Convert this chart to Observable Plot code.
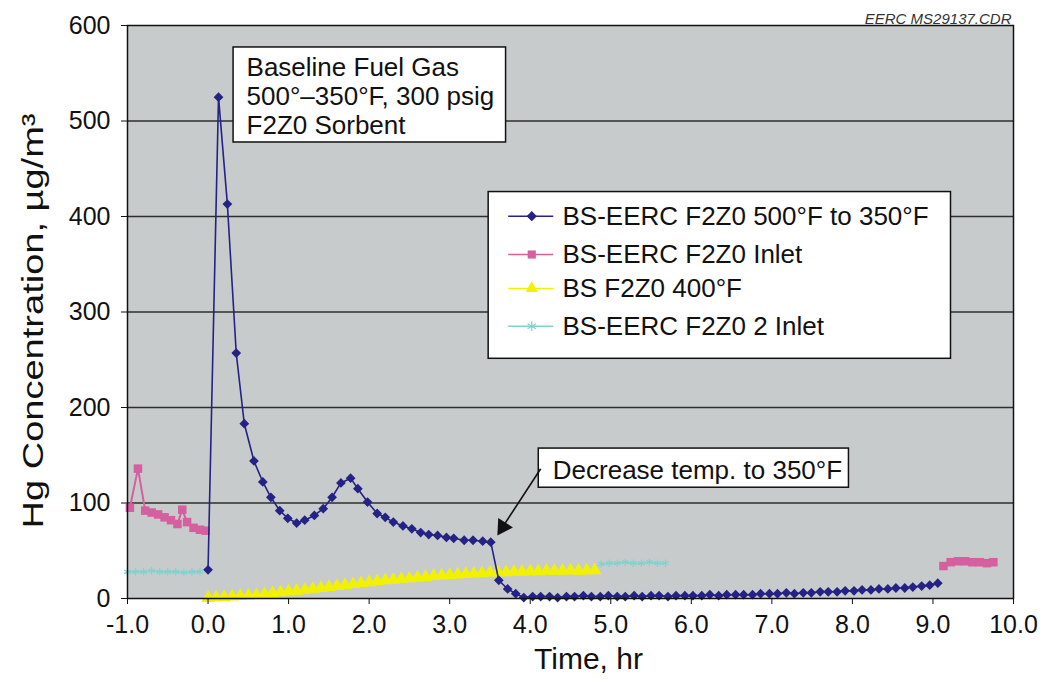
<!DOCTYPE html>
<html>
<head>
<meta charset="utf-8">
<script src="https://cdn.jsdelivr.net/npm/d3@7"></script>
<script src="https://cdn.jsdelivr.net/npm/@observablehq/plot@0.6"></script>
<style>
  body { margin: 0; background: #ffffff; }
  #chart svg { display: block; }
</style>
</head>
<body>
<div id="chart"></div>
<script>
// ---------- Data ----------
// BS-EERC F2Z0 500°F to 350°F
const mainTime = [0.00,0.13,0.24,0.35,0.45,0.57,0.68,0.78,0.89,0.99,1.10,1.20,1.32,1.43,1.54,1.65,1.77,1.86,1.98,2.10,2.20,2.30,2.42,2.53,2.64,2.74,2.85,2.96,3.05,3.18,3.29,3.41,3.51,3.61,3.72,3.82,3.92,4.03,4.13,4.24,4.34,4.45,4.55,4.66,4.76,4.87,4.97,5.08,5.18,5.29,5.39,5.50,5.60,5.71,5.81,5.92,6.02,6.13,6.23,6.34,6.44,6.55,6.65,6.76,6.86,6.97,7.07,7.18,7.28,7.39,7.49,7.60,7.70,7.81,7.91,8.02,8.12,8.23,8.33,8.44,8.54,8.65,8.75,8.86,8.96,9.06];
const mainHg = [30,525,413,257,183,144,122,106,92,84,79,82,87,94,106,121,126,115,101,89,85,80,76,73,69,67,66,64,63,61,61,60,59,19,10,5,1,2,2,2,1,2,2,3,2,2,3,2,2,3,2,3,3,2,3,3,3,3,4,3,4,4,4,4,5,5,5,6,5,6,6,7,7,7,8,8,9,9,10,10,11,11,12,13,14,16];

// BS-EERC F2Z0 Inlet (two segments)
const inletTimeA = [-0.97,-0.87,-0.78,-0.70,-0.62,-0.54,-0.46,-0.38,-0.32,-0.26,-0.18,-0.10,-0.03];
const inletHgA = [95,136,92,90,88,85,82,78,93,80,74,72,71];
const inletTimeB = [9.13,9.22,9.31,9.40,9.49,9.58,9.67,9.75];
const inletHgB = [34,38,39,39,38,38,37,38];

// BS F2Z0 400°F
const bsTime = [0.00,0.10,0.20,0.30,0.40,0.50,0.60,0.70,0.80,0.90,1.00,1.10,1.20,1.30,1.40,1.50,1.60,1.70,1.80,1.90,2.00,2.10,2.20,2.30,2.40,2.50,2.60,2.70,2.80,2.90,3.00,3.10,3.20,3.30,3.40,3.50,3.60,3.70,3.80,3.90,4.00,4.10,4.20,4.30,4.40,4.50,4.60,4.70,4.80];
const bsHg = [0.5,1,1.5,2,2.5,3,3.5,4.5,5.5,6.5,7.5,8,9,10,11,12,13,14,15,16,17,18,19,19.5,20.5,21,22,22.5,23.5,24,24.5,25,25.5,26,26.5,27,27.5,27.5,28,28,28.5,28.5,29,29,29,29.5,29,29.5,29.5];

// BS-EERC F2Z0 2 Inlet (two segments)
const inlet2TimeA = [-1.00,-0.90,-0.80,-0.70,-0.60,-0.50,-0.40,-0.30,-0.20,-0.10];
const inlet2HgA = [28,28,28,29,28,28,28,27,28,28];
const inlet2TimeB = [4.88,4.98,5.08,5.18,5.28,5.38,5.48,5.58,5.68];
const inlet2HgB = [36,37,37,38,37,37,38,37,37];

const seriesNames = ["BS-EERC F2Z0 500°F to 350°F","BS-EERC F2Z0 Inlet","BS F2Z0 400°F","BS-EERC F2Z0 2 Inlet"];
const seriesColors = ["#242285","#d4609f","#f2f200","#7ed3cf"];
const seriesSymbols = ["diamond2","square","triangle","asterisk"];

const xTicks = [-1,0,1,2,3,4,5,6,7,8,9,10];
const yTicks = [0,100,200,300,400,500,600];
const gridY = [100,200,300,400,500];

const yTitle = "Hg Concentration, µg/m³";
const xTitle = "Time, hr";
const fileTag = "EERC MS29137.CDR";

// Annotations (data coordinates)
const boxes = [
  {x1: 0.317, x2: 3.70, y1: 477.5, y2: 577, tx: 0.478, ty: 569, label: "Baseline Fuel Gas\n500°–350°F, 300 psig\nF2Z0 Sorbent"},
  {x1: 4.106, x2: 7.957, y1: 116, y2: 157, tx: 4.28, ty: 146.5, label: "Decrease temp. to 350°F"}
];
const arrowLine = [{x1: 4.13, y1: 135.8, x2: 3.62, y2: 70}];
const arrowHead = [{x: 3.660, y: 74.9, angle: 213}];

// Legend placement (data coordinates)
const legendBox = [{x1: 3.484, x2: 9.224, y1: 251, y2: 425.6}];
const legendRowsY = [400.3, 360.2, 324.6, 285.1];
const legendLineX = [3.733, 4.292];
const legendMarkX = 4.019;
const legendTextX = 4.40;

// ---------- Build tables ----------
const zip = (ts, vs, seg) => ts.map((t, i) => ({t, v: vs[i], seg}));
const mainData = zip(mainTime, mainHg, "a");
const inletData = [...zip(inletTimeA, inletHgA, "a"), ...zip(inletTimeB, inletHgB, "b")];
const bsData = zip(bsTime, bsHg, "a");
const inlet2Data = [...zip(inlet2TimeA, inlet2HgA, "a"), ...zip(inlet2TimeB, inlet2HgB, "b")];

const legendData = seriesNames.map((name, i) => ({
  name, color: seriesColors[i], symbol: seriesSymbols[i], y: legendRowsY[i]
}));

const FONT = "'Liberation Sans', Arial, Helvetica, sans-serif";

const chart = Plot.plot({
  width: 1046,
  height: 687,
  marginLeft: 127,
  marginRight: 33,
  marginTop: 25,
  marginBottom: 89,
  style: {fontFamily: FONT, background: "#ffffff", color: "#111"},
  x: {domain: [-1, 10]},
  y: {domain: [0, 600]},
  marks: [
    Plot.frame({fill: "#c8cbcc"}),
    Plot.ruleY(gridY, {stroke: "#2e2e2e", strokeWidth: 1.3}),

    // BS-EERC F2Z0 2 Inlet (cyan)
    Plot.line(inlet2Data, {x: "t", y: "v", z: "seg", stroke: seriesColors[3], strokeWidth: 1.5}),
    Plot.dot(inlet2Data, {x: "t", y: "v", symbol: "asterisk", r: 3.5, stroke: seriesColors[3], strokeWidth: 1.2}),

    // BS F2Z0 400°F (yellow)
    Plot.line(bsData, {x: "t", y: "v", stroke: seriesColors[2], strokeWidth: 2}),
    Plot.dot(bsData, {x: "t", y: "v", symbol: "triangle", r: 5, fill: seriesColors[2], stroke: "none"}),

    // BS-EERC F2Z0 Inlet (pink)
    Plot.line(inletData, {x: "t", y: "v", z: "seg", stroke: seriesColors[1], strokeWidth: 2}),
    Plot.dot(inletData, {x: "t", y: "v", symbol: "square", r: 4.8, fill: seriesColors[1], stroke: "none"}),

    // BS-EERC F2Z0 500°F to 350°F (navy)
    Plot.line(mainData, {x: "t", y: "v", stroke: seriesColors[0], strokeWidth: 1.6}),
    Plot.dot(mainData, {x: "t", y: "v", symbol: "diamond2", r: 4.4, fill: seriesColors[0], stroke: "none"}),

    Plot.frame({stroke: "#111", strokeWidth: 1.5}),

    // Axes
    Plot.axisY({ticks: yTicks, tickSize: 6, tickPadding: 11, fontSize: 25, label: null}),
    Plot.axisX({ticks: xTicks, tickSize: 6, tickPadding: 11, fontSize: 25, tickFormat: d => d.toFixed(1), label: null}),
    Plot.text([yTitle], {frameAnchor: "left", textAnchor: "middle", rotate: -90, dx: -94, dy: 9, fontSize: 30}),
    Plot.text([xTitle], {frameAnchor: "bottom", textAnchor: "middle", dy: 70, dx: 18, fontSize: 30}),
    Plot.text([fileTag], {frameAnchor: "top-right", textAnchor: "end", dx: -2, dy: -12, fontSize: 15, fontStyle: "italic", fill: "#333"}),

    // Annotation boxes
    Plot.rect(boxes, {x1: "x1", x2: "x2", y1: "y1", y2: "y2", fill: "white", stroke: "#111", strokeWidth: 1.5}),
    Plot.text(boxes, {x: "tx", y: "ty", text: "label", textAnchor: "start", lineAnchor: "top", fontSize: 26, lineHeight: 1.12, fill: "#111"}),
    Plot.link(arrowLine, {x1: "x1", y1: "y1", x2: "x2", y2: "y2", stroke: "#111", strokeWidth: 1.6}),
    Plot.dot(arrowHead, {x: "x", y: "y", symbol: "triangle", r: 6.5, fill: "#111", stroke: "none", rotate: "angle"}),

    // Legend
    Plot.rect(legendBox, {x1: "x1", x2: "x2", y1: "y1", y2: "y2", fill: "white", stroke: "#111", strokeWidth: 1.5}),
    Plot.ruleY(legendData, {y: "y", x1: legendLineX[0], x2: legendLineX[1], stroke: "color", strokeWidth: 1.5}),
    Plot.dot(legendData.filter(d => d.symbol !== "asterisk"), {x: legendMarkX, y: "y", symbol: "symbol", r: 4.6, fill: "color", stroke: "none"}),
    Plot.dot(legendData.filter(d => d.symbol === "asterisk"), {x: legendMarkX, y: "y", symbol: "symbol", r: 4.6, stroke: "color", strokeWidth: 1.2}),
    Plot.text(legendData, {x: legendTextX, y: "y", text: "name", textAnchor: "start", fontSize: 26, fill: "#111"})
  ]
});

// stretch the y-axis title along its length to match the reference proportions
d3.select(chart).selectAll("text")
  .filter(function () { return this.textContent === yTitle; })
  .attr("textLength", 415)
  .attr("lengthAdjust", "spacingAndGlyphs");

document.getElementById("chart").appendChild(chart);
</script>
</body>
</html>
